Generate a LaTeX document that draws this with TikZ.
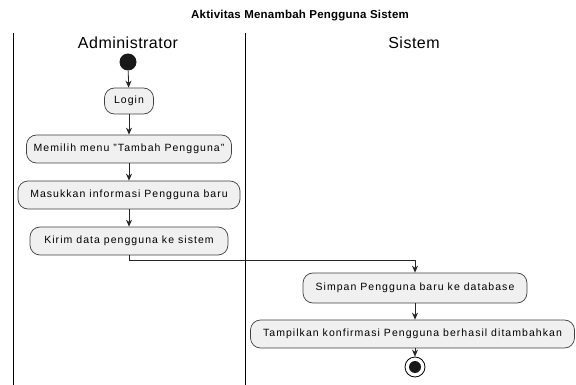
\documentclass[tikz,border=0pt]{standalone}
\usepackage{fontspec}
\setmainfont{Liberation Sans}
\usetikzlibrary{arrows.meta}
\begin{document}
\begin{tikzpicture}[x=1pt,y=-1pt,
  act/.style={draw=black!75, fill=black!6, rounded corners=10pt, line width=0.7pt,
    inner sep=0pt, font=\fontsize{10.5}{12}\selectfont\addfontfeatures{LetterSpace=10}},
  flow/.style={draw=black!85, line width=0.8pt, -{Stealth[length=7pt,width=6pt]}},
  lane/.style={draw=black, line width=1pt},
  lanehead/.style={font=\fontsize{16}{19}\selectfont\addfontfeatures{LetterSpace=3}}]
\useasboundingbox (0,0) rectangle (576,385);
% title
\node[font=\bfseries\fontsize{11.5}{13}\selectfont\addfontfeatures{LetterSpace=2}] (title) at (300,16) {Aktivitas Menambah Pengguna Sistem};
% swimlanes
\draw[lane] (13,33) -- (13,385);
\draw[lane] (245,33) -- (245,385);
\node[lanehead] (laneA) at (128,43) {Administrator};
\node[lanehead] (laneB) at (414,43) {Sistem};
% activities
\node[circle, fill=black!90, minimum size=17pt, inner sep=0pt] (start) at (128,62) {};
\node[act, minimum width=49pt, minimum height=26pt] (login) at (129,101) {Login};
\node[act, minimum width=205pt, minimum height=28pt] (menu) at (129,149) {Memilih menu "Tambah Pengguna"};
\node[act, minimum width=222pt, minimum height=28pt] (info) at (129,195) {Masukkan informasi Pengguna baru};
\node[act, minimum width=198pt, minimum height=28pt] (kirim) at (129,241) {Kirim data pengguna ke sistem};
\node[act, minimum width=224pt, minimum height=30pt] (simpan) at (415,288) {Simpan Pengguna baru ke database};
\node[act, minimum width=324pt, minimum height=28pt] (tampil) at (412.5,334) {Tampilkan konfirmasi Pengguna berhasil ditambahkan};
\node[circle, draw=black, line width=0.8pt, minimum size=20pt, inner sep=0pt] (stop) at (415,367) {};
\node[circle, fill=black!90, minimum size=12pt, inner sep=0pt] at (stop) {};
% connectors
\draw[flow] (start) -- (login);
\draw[flow] (login) -- (menu);
\draw[flow] (menu) -- (info);
\draw[flow] (info) -- (kirim);
\draw[flow] (kirim.south) -- ++(0,5) -| (simpan.north);
\draw[flow] (simpan) -- (simpan|-tampil.north);
\draw[flow] (stop|-tampil.south) -- (stop);
\end{tikzpicture}
\end{document}
